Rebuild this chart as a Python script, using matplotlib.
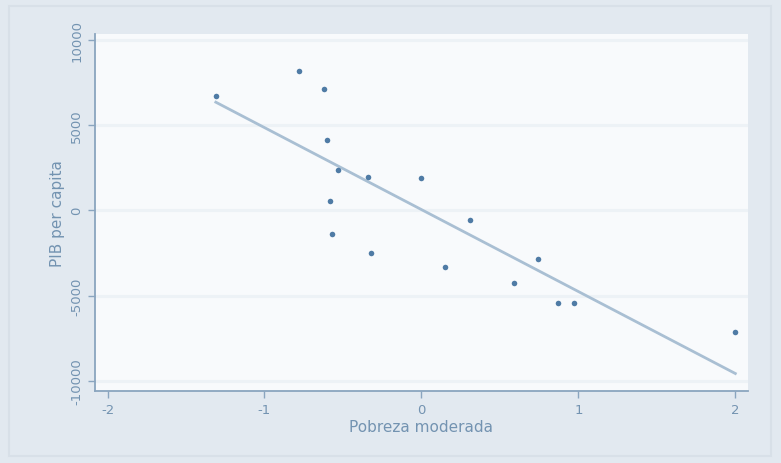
import numpy as np
import matplotlib.pyplot as plt
from matplotlib.patches import Rectangle

# pobreza moderada (standardised) vs PIB per capita
pobreza = [-1.31, -0.78, -0.62, -0.60, -0.53, -0.34, 0.00, -0.58, -0.57,
           -0.32, 0.15, 0.31, 0.74, 0.59, 0.87, 0.97, 2.00]
pib = [6690, 8160, 7100, 4110, 2350, 1940, 1880, 530, -1410,
       -2520, -3350, -590, -2880, -4280, -5460, -5460, -7160]
fit_x = [-1.31, 2.00]
fit_y = [6340, -9570]

xticks = [-2, -1, 0, 1, 2]
yticks = [-10000, -5000, 0, 5000, 10000]

bg = '#e2e9f0'
axcol = '#8aa5bf'
txtcol = '#7393b1'

fig = plt.figure(figsize=(7.81, 4.64), dpi=100, facecolor=bg)
# faint inner frame of the graph region
fig.patches.append(Rectangle((0.012, 0.015), 0.975, 0.97, transform=fig.transFigure,
                             fill=False, ec='#d8e0e8', lw=1.5))

ax = fig.add_axes([0.1216, 0.155, 0.836, 0.77])
ax.set_facecolor('#f8fafc')

for y in yticks:
    ax.axhline(y, color='#edf2f6', lw=2.2, zorder=0)

ax.plot(fit_x, fit_y, color='#a9bfd3', lw=2, zorder=2)
ax.plot(pobreza, pib, 'o', color='#4f7ba5', ms=4, mec='none', zorder=3)

ax.set_xlim(-2.08, 2.08)
ax.set_ylim(-10600, 10350)
ax.set_xticks(xticks)
ax.set_yticks(yticks)
ax.set_xticklabels([str(t) for t in xticks])
ax.set_yticklabels([str(t) for t in yticks], rotation=90, va='center')

for s in ['top', 'right']:
    ax.spines[s].set_visible(False)
for s in ['left', 'bottom']:
    ax.spines[s].set_color(axcol)
    ax.spines[s].set_linewidth(1.3)
ax.tick_params(colors=axcol, labelcolor=txtcol, labelsize=9.5, length=5, width=1)

ax.set_xlabel('Pobreza moderada', color=txtcol, fontsize=11, labelpad=2)
ax.set_ylabel('PIB per capita', color=txtcol, fontsize=11, labelpad=4)

fig.savefig('out.png', dpi=100, facecolor=bg)
